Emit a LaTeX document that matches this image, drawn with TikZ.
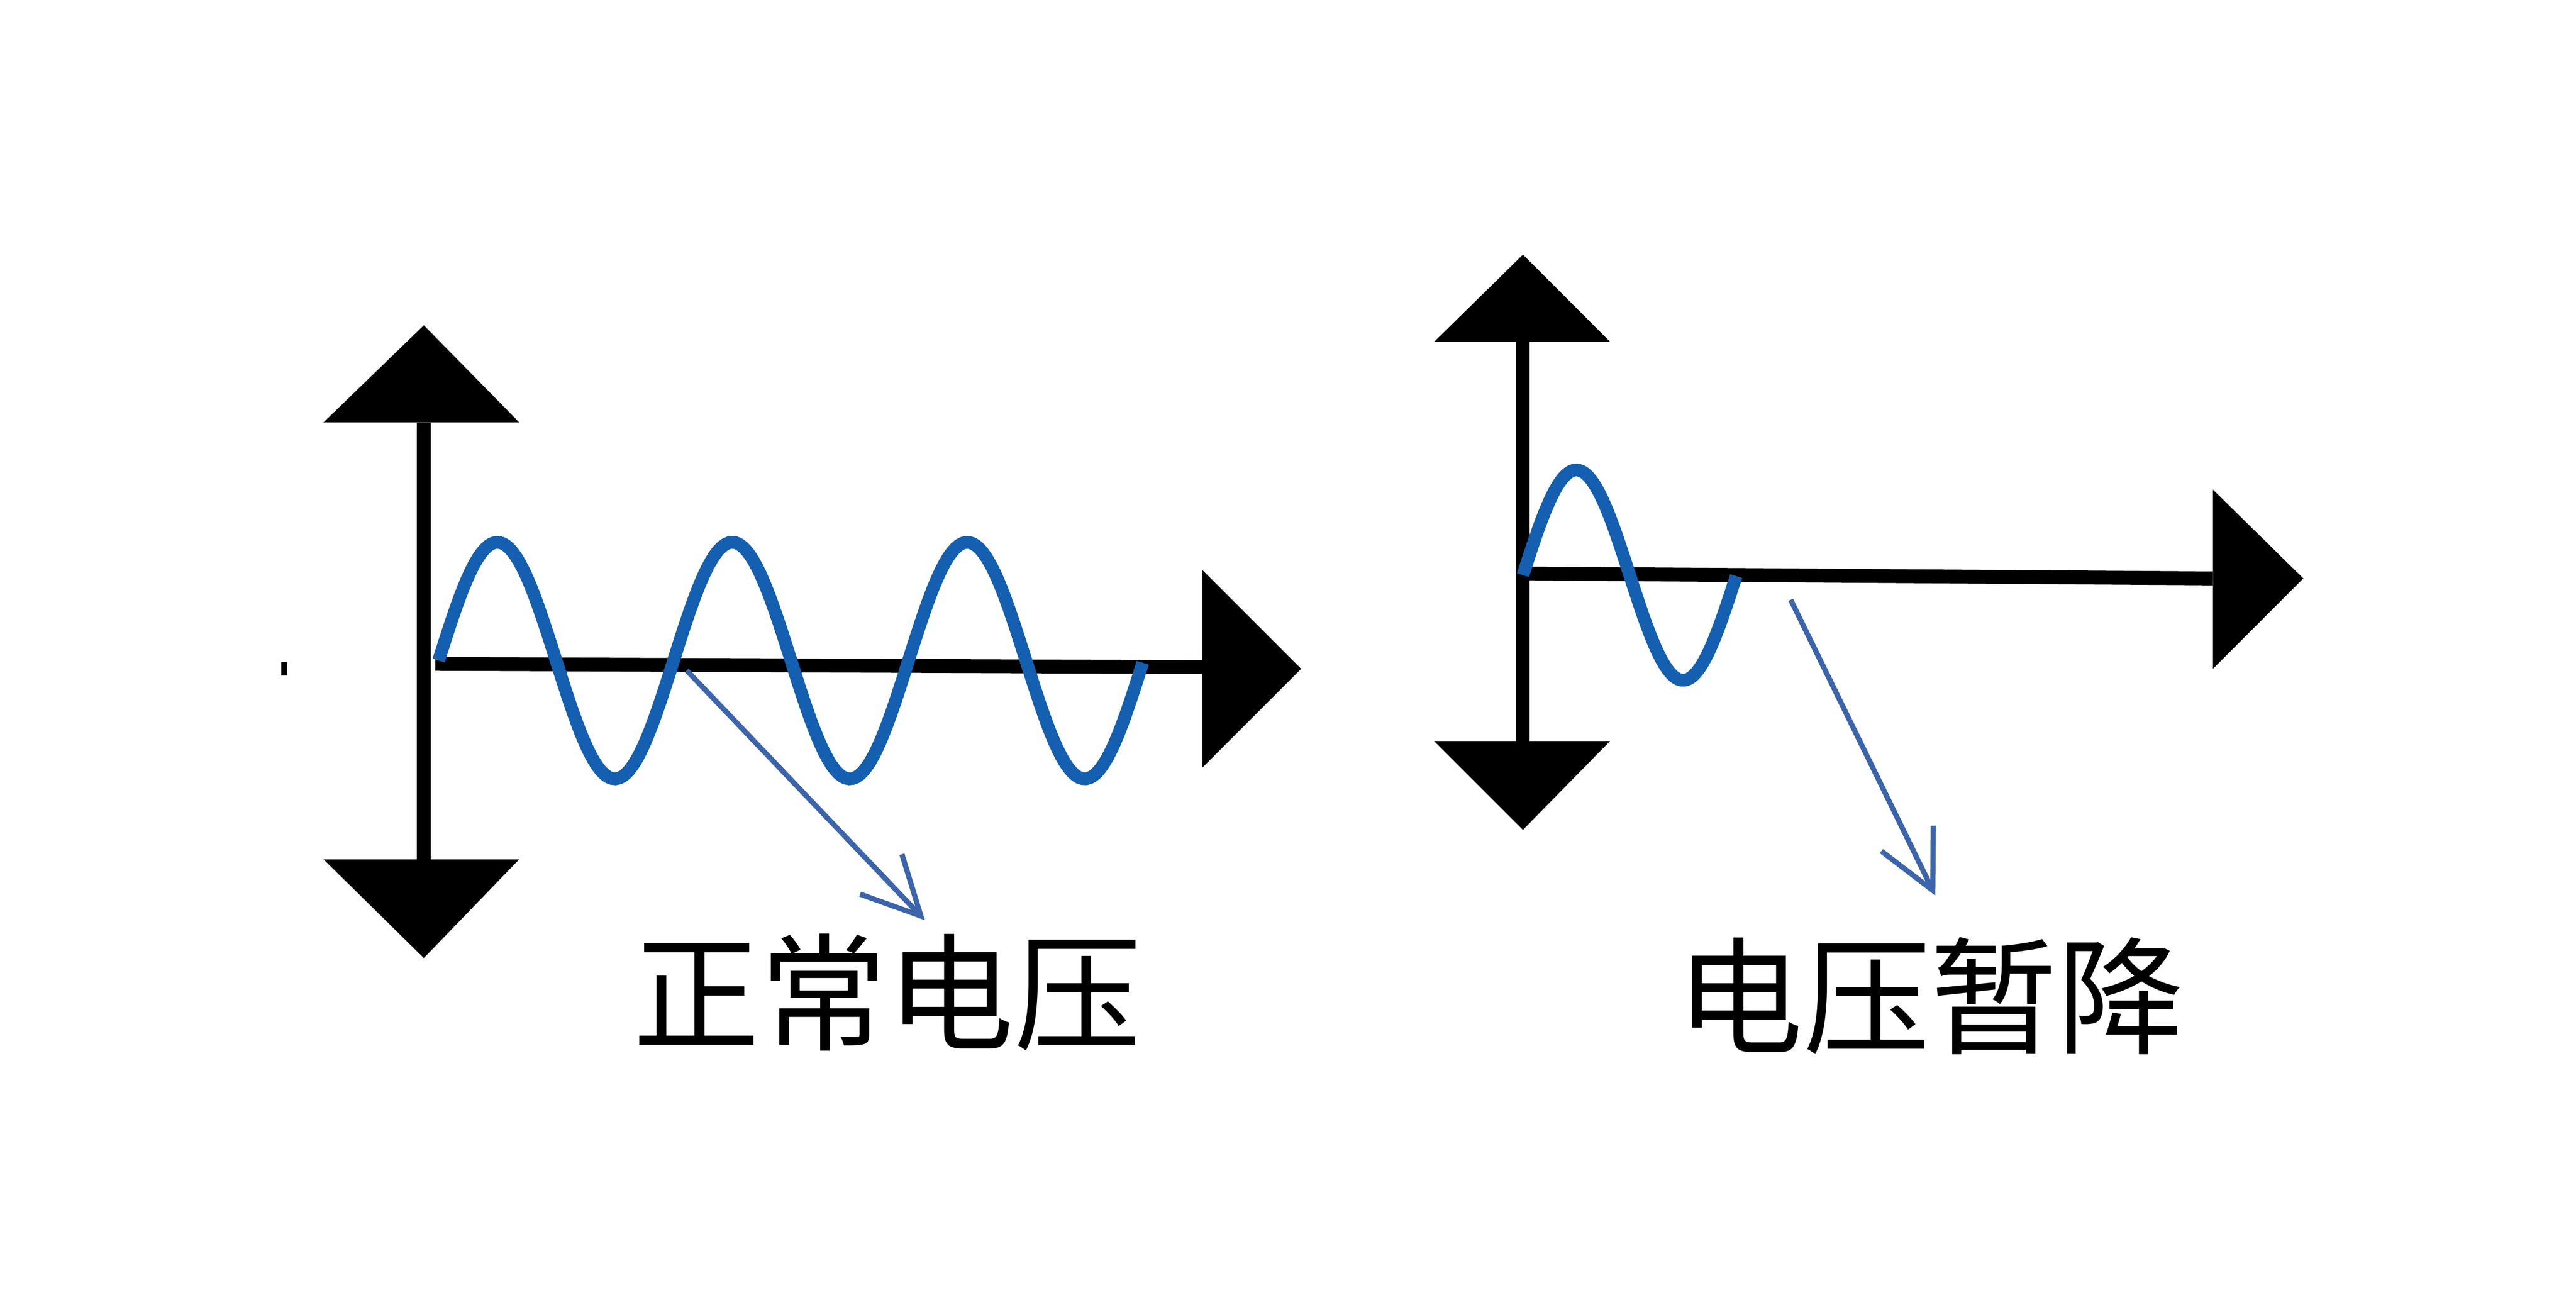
\documentclass[tikz,border=0pt]{standalone}
\usepackage{fontspec}
\usetikzlibrary{arrows.meta}
\newfontfamily\cjk{Noto Sans CJK SC}
\begin{document}
\begin{tikzpicture}[x=0.01cm,y=-0.01cm,
  axis/.style={line width=2.4pt,black},
  head/.style={fill=black},
  wave/.style={line width=2.2pt,color={rgb,255:red,20;green,95;blue,175}},
  pointer/.style={line width=0.9pt,color={rgb,255:red,60;green,100;blue,170},-{Straight Barb[length=10pt,width=10pt]}},
  lab/.style={font=\cjk\fontsize{22}{26}\selectfont}]
\useasboundingbox (0,0) rectangle (1568,788);
% left diagram
\coordinate (lt) at (258,257); \coordinate (lb) at (258,523);
\draw[axis] (lt) -- (lb);
\fill[head] (197,257) -- (258,198) -- (316,257) -- cycle;
\fill[head] (197,523) -- (258,583) -- (316,523) -- cycle;
\coordinate (lh0) at (265,404); \coordinate (lh1) at (732,406);
\draw[axis] (lh0) -- (lh1);
\fill[head] (732,347) -- (792,407) -- (732,467) -- cycle;
\draw[wave] plot[domain=0:3,samples=200] ({267+143*\x},{402-72*sin(360*\x)});
\draw[line width=1pt] (173,403) -- (173,411);
\node[lab] (t1) at (540,604) {正常电压};
\coordinate (p1) at (418,408);
\draw[pointer] (p1) -- (563,560);
% right diagram
\coordinate (rt) at (927,208); \coordinate (rb) at (927,451);
\draw[axis] (rt) -- (rb);
\fill[head] (873,208) -- (927,155) -- (980,208) -- cycle;
\fill[head] (873,451) -- (927,505) -- (980,451) -- cycle;
\coordinate (rh0) at (927,349); \coordinate (rh1) at (1347,352);
\draw[axis] (rh0) -- (rh1);
\fill[head] (1347,298) -- (1402,352) -- (1347,407) -- cycle;
\draw[wave] plot[domain=0:1,samples=100] ({927+130*\x},{350-64*sin(360*\x)});
\node[lab] (t2) at (1175,606) {电压暂降};
\coordinate (p2) at (1090,365);
\draw[pointer] (p2) -- (1178,545);
\end{tikzpicture}
\end{document}
